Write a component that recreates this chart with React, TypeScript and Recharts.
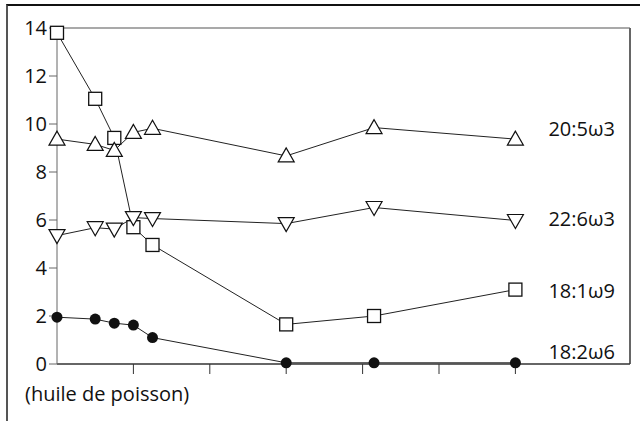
import { LineChart, Line, XAxis, YAxis, ReferenceLine, Label } from 'recharts';

// x position of each sample (axis units, one tick per unit)
const xValues = [0, 0.5, 0.75, 1, 1.25, 3, 4.15, 6];
const epa = [9.37, 9.15, 8.9, 9.65, 9.82, 8.67, 9.85, 9.37];
const dha = [5.35, 5.68, 5.62, 6.1, 6.06, 5.85, 6.52, 5.98];
const oleic = [13.8, 11.05, 9.42, 5.7, 4.96, 1.65, 2.0, 3.1];
const linoleic = [1.95, 1.87, 1.7, 1.62, 1.1, 0.05, 0.05, 0.05];
const seriesNames = ['20:5ω3', '22:6ω3', '18:1ω9', '18:2ω6'];
const yTicks = [0, 2, 4, 6, 8, 10, 12, 14];
const xTicks = [1, 2, 3, 4, 5, 6];
const xLabel = '(huile de poisson)';

const chartData = xValues.map((x, i) => ({
  x,
  epa: epa[i],
  dha: dha[i],
  oleic: oleic[i],
  linoleic: linoleic[i],
}));

const FONT = '"Open Sans", "Noto Sans", sans-serif';
const INK = '#111';
const last = xValues.length - 1;

type DotProps = { cx?: number; cy?: number; index?: number };

const square = ({ cx = 0, cy = 0, index }: DotProps) => (
  <rect key={`sq-${index}`} x={cx - 6.5} y={cy - 6.5} width={13} height={13}
    fill="#fff" stroke={INK} strokeWidth={1.3} />
);

const triUp = ({ cx = 0, cy = 0, index }: DotProps) => (
  <polygon key={`tu-${index}`}
    points={`${cx},${cy - 8} ${cx - 8},${cy + 6} ${cx + 8},${cy + 6}`}
    fill="#fff" stroke={INK} strokeWidth={1.2} />
);

const triDown = ({ cx = 0, cy = 0, index }: DotProps) => (
  <polygon key={`td-${index}`}
    points={`${cx},${cy + 8} ${cx - 8},${cy - 6} ${cx + 8},${cy - 6}`}
    fill="#fff" stroke={INK} strokeWidth={1.2} />
);

const disc = ({ cx = 0, cy = 0, index }: DotProps) => (
  <circle key={`dc-${index}`} cx={cx} cy={cy} r={5.5} fill={INK} />
);

// name written to the right of the last point of each series
const endLabel = (name: string, dy: number) =>
  (props: { x?: number; y?: number; index?: number }) => {
    if (props.index !== last) return null;
    return (
      <text x={(props.x ?? 0) + 33} y={(props.y ?? 0) + dy} dy="0.35em"
        fontSize={20} fontFamily={FONT} fill={INK}>
        {name}
      </text>
    );
  };

export default function App() {
  return (
    <div style={{ position: 'absolute', left: 0, top: 0, width: 640, height: 421, overflow: 'hidden', background: '#fff' }}>
      <div style={{
        position: 'absolute', left: 6, top: 4, width: 700, height: 500,
        borderTop: '2px solid #111', borderLeft: '2px solid #555',
      }} />
      <div style={{ position: 'absolute', left: 0, top: 0 }}>
        <LineChart width={640} height={421} data={chartData}
          margin={{ top: 28, right: 10, bottom: 27, left: 0 }}>
          <XAxis dataKey="x" type="number" domain={[0, 7.5]} ticks={xTicks}
            height={30} tickSize={10} tickFormatter={() => ''}
            stroke="#333" axisLine={{ stroke: '#333', strokeWidth: 1.5 }}>
            <Label
              content={() => (
                <text x={25} y={401} fontSize={20} fontFamily={FONT} fill={INK}>{xLabel}</text>
              )}
            />
          </XAxis>
          <YAxis type="number" domain={[0, 14]} ticks={yTicks} width={57}
            tickSize={8} tickMargin={2} stroke="#666"
            tick={{ fontSize: 20, fill: INK, fontFamily: FONT }} />
          <ReferenceLine y={14} stroke="#555" strokeWidth={1.2} />
          <ReferenceLine x={7.5} stroke="#666" strokeWidth={2} />
          <Line dataKey="oleic" stroke="#222" strokeWidth={1} dot={square}
            label={endLabel(seriesNames[2], 1)} isAnimationActive={false} />
          <Line dataKey="epa" stroke="#222" strokeWidth={1} dot={triUp}
            label={endLabel(seriesNames[0], -10)} isAnimationActive={false} />
          <Line dataKey="dha" stroke="#222" strokeWidth={1} dot={triDown}
            label={endLabel(seriesNames[1], -1)} isAnimationActive={false} />
          <Line dataKey="linoleic" stroke="#222" strokeWidth={1} dot={disc}
            label={endLabel(seriesNames[3], -11)} isAnimationActive={false} />
        </LineChart>
      </div>
    </div>
  );
}
